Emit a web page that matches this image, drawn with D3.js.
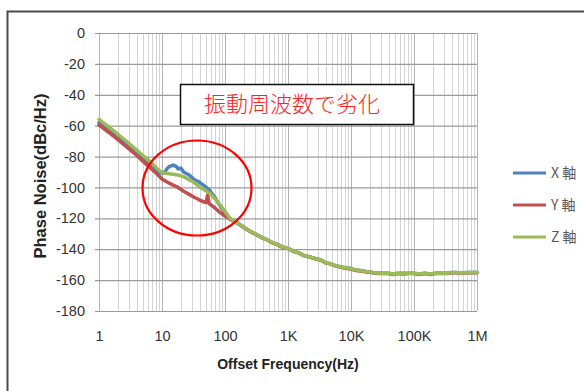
<!DOCTYPE html>
<html><head><meta charset="utf-8">
<script src="https://cdn.jsdelivr.net/npm/d3@7"></script>
<style>
html,body{margin:0;padding:0;background:#fff;}
svg{display:block;}
</style></head>
<body>
<svg id="chart" width="584" height="391"></svg>
<script>
// ---- data ----
const yTicks = [0,-20,-40,-60,-80,-100,-120,-140,-160,-180];
const xTickValues = [1,10,100,1000,10000,100000,1000000];
const xTickLabels = ["1","10","100","1K","10K","100K","1M"];
const seriesNames = ["X 軸","Y 軸","Z 軸"];
const annotationText = "振動周波数で劣化";

const freqX = [1,1.2,1.5,1.8,2.2,2.7,3.3,3.9,4.7,5.6,6.8,8.2,10,11,12,13,15,17,18,20,22,27,33,39,47,56,68,82,100,120,
  150,180,220,270,330,390,470,560,680,820,1000,1200,1500,1800,2200,2700,3300,3900,4700,5600,6800,8200,10000,12000,15000,18000,22000,27000,33000,39000,47000,56000,68000,82000,100000,120000,150000,180000,220000,270000,330000,390000,470000,560000,680000,820000,1000000];
const valX = [-58,-60.5,-63.5,-66,-69,-72,-75,-77.5,-80.5,-83,-86,-89,-91,-90,-88,-86.5,-85.5,-86.5,-88,-87.5,-90,-92,-95,-96.5,-99,-101.5,-106,-111.5,-116.5,-120.5,
  -122.5,-124.5,-127,-129,-131,-132.5,-134,-135.5,-137,-138.5,-139.5,-141,-142.5,-144,-145,-146,-147,-148.5,-149.5,-150.5,-151.5,-152,-152.5,-153.5,-154,-154.5,-155,-155.5,-155.5,-155.5,-156,-155.5,-155.5,-155.5,-155.5,-156,-155.5,-156,-155.5,-155.5,-155.5,-155,-155,-155.5,-155,-155,-155];

const freqY = [1,1.2,1.5,1.8,2.2,2.7,3.3,3.9,4.7,5.6,6.8,8.2,10,12,15,18,22,27,33,39,47,50,53,56,68,82,100,120,
  150,180,220,270,330,390,470,560,680,820,1000,1200,1500,1800,2200,2700,3300,3900,4700,5600,6800,8200,10000,12000,15000,18000,22000,27000,33000,39000,47000,56000,68000,82000,100000,120000,150000,180000,220000,270000,330000,390000,470000,560000,680000,820000,1000000];
const valY = [-59.5,-62,-65,-67.5,-70.5,-73.5,-76.5,-79,-82,-85,-88,-91,-94.5,-96.5,-98.5,-100,-102.5,-104.5,-106.5,-108,-109.5,-109.8,-105,-110.5,-113,-116,-118.5,-120.5,
  -122.5,-124.8,-127,-129.3,-131,-132.8,-134,-135.8,-137,-138.8,-139.5,-141.3,-142.5,-144.3,-145,-146.3,-147,-148.8,-149.5,-150.8,-151.5,-152.3,-152.8,-153.8,-154.3,-154.8,-155.3,-155.8,-155.8,-155.8,-156.3,-155.8,-156,-155.8,-155.8,-156.3,-155.8,-156.3,-155.8,-155.8,-155.8,-155.3,-155.3,-155.8,-155.3,-155.3,-155.3];

const freqZ = [1,1.2,1.5,1.8,2.2,2.7,3.3,3.9,4.7,5.6,6.8,8.2,10,12,15,18,22,27,33,39,47,56,68,82,100,120,
  150,180,220,270,330,390,470,560,680,820,1000,1200,1500,1800,2200,2700,3300,3900,4700,5600,6800,8200,10000,12000,15000,18000,22000,27000,33000,39000,47000,56000,68000,82000,100000,120000,150000,180000,220000,270000,330000,390000,470000,560000,680000,820000,1000000];
const valZ = [-56,-58.5,-61.5,-64,-67,-70,-73,-75.5,-78.5,-81,-84,-87.5,-90.5,-91,-91.5,-92,-93,-95,-97,-99.5,-101.5,-103.5,-107,-111,-115.5,-120,
  -122.5,-124.5,-127,-129,-131,-132.5,-134,-135.5,-137,-138.5,-139.5,-141,-142.5,-144,-145,-146,-147,-148.5,-149.5,-150.5,-151.5,-152,-152.5,-153.5,-154,-154.5,-155,-155.5,-155.5,-155.5,-156,-155.5,-155.5,-155.5,-155.5,-156,-155.5,-156,-155.5,-155.5,-155.5,-155,-155,-155.5,-155,-155,-155];

const colors = ["#4F81BD","#C0504D","#9BBB59"];

// ---- drawing ----
const svg = d3.select("#chart");
const plot = {left:99, right:477, top:33, bottom:311};

// outer frame
svg.append("rect").attr("x",7.5).attr("y",11.5).attr("width",620).attr("height",420)
  .attr("fill","#fff").attr("stroke","#4a4a4a").attr("stroke-width",2);

const x = d3.scaleLog().domain([1,1e6]).range([plot.left,plot.right]);
const y = d3.scaleLinear().domain([-180,0]).range([plot.bottom,plot.top]);

// vertical grid (minor + decade)
const minorVals = [];
for (let e=0;e<6;e++) for (let m=2;m<=9;m++) minorVals.push(m*Math.pow(10,e));
svg.append("g").selectAll("line").data(minorVals).join("line")
  .attr("x1",d=>Math.round(x(d))+0.5).attr("x2",d=>Math.round(x(d))+0.5)
  .attr("y1",plot.top).attr("y2",plot.bottom)
  .attr("stroke","#d4d4d4").attr("stroke-width",1);
svg.append("g").selectAll("line").data(xTickValues).join("line")
  .attr("x1",d=>Math.round(x(d))+0.5).attr("x2",d=>Math.round(x(d))+0.5)
  .attr("y1",plot.top).attr("y2",plot.bottom)
  .attr("stroke","#b3b3b3").attr("stroke-width",1);

// horizontal grid via axis
const yAxis = d3.axisLeft(y).tickValues(yTicks).tickFormat(d=>String(d))
  .tickSize(-(plot.right-plot.left)).tickSizeOuter(0).tickPadding(10);
const gy = svg.append("g").attr("transform",`translate(${plot.left},0)`).call(yAxis);
gy.select(".domain").remove();
gy.selectAll(".tick line").attr("stroke","#9a9a9a").attr("stroke-width",1.2).attr("x1",-4);
gy.selectAll(".tick text").attr("font-family","Liberation Sans, Arial, sans-serif")
  .attr("font-size",14.5).attr("fill","#333").attr("x",-14);

// x axis labels
const xAxis = d3.axisBottom(x).tickValues(xTickValues).tickFormat((d,i)=>xTickLabels[i]).tickSize(0).tickPadding(20);
const gx = svg.append("g").attr("transform",`translate(0,${plot.bottom})`).call(xAxis);
gx.select(".domain").remove();
gx.selectAll(".tick text").attr("font-family","Liberation Sans, Arial, sans-serif")
  .attr("font-size",14.5).attr("fill","#333");

// series
const line = d3.line().x(d=>x(d[0])).y(d=>y(d[1])).curve(d3.curveLinear);
const seriesData = [
  d3.zip(freqX,valX),
  d3.zip(freqY,valY),
  d3.zip(freqZ,valZ)
];
svg.append("g").selectAll("path").data(seriesData).join("path")
  .attr("d",line).attr("fill","none")
  .attr("stroke",(d,i)=>colors[i]).attr("stroke-width",3.5)
  .attr("stroke-linejoin","round").attr("stroke-linecap","round");

// axis titles
svg.append("text").attr("x",(plot.left+plot.right)/2).attr("y",369)
  .attr("text-anchor","middle").attr("font-family","Liberation Sans, Arial, sans-serif")
  .attr("font-weight","bold").attr("font-size",14).attr("fill","#222")
  .text("Offset Frequency(Hz)");
svg.append("text").attr("transform",`translate(46,${(plot.top+plot.bottom)/2+4}) rotate(-90)`)
  .attr("text-anchor","middle").attr("font-family","Liberation Sans, Arial, sans-serif")
  .attr("font-weight","bold").attr("font-size",16.5).attr("fill","#222")
  .text("Phase Noise(dBc/Hz)");

// legend
const legY = [173,205,237];
const leg = svg.append("g");
seriesNames.forEach((n,i)=>{
  leg.append("line").attr("x1",513).attr("x2",546).attr("y1",legY[i]).attr("y2",legY[i])
    .attr("stroke",colors[i]).attr("stroke-width",3);
  leg.append("text").attr("x",551).attr("y",legY[i]).attr("dy","0.36em")
    .attr("font-family","Noto Sans CJK JP, sans-serif").attr("font-size",14).attr("fill","#595959")
    .text(n);
});

// annotation box
svg.append("rect").attr("x",180.5).attr("y",84.5).attr("width",233).attr("height",40)
  .attr("fill","#fff").attr("stroke","#111").attr("stroke-width",1.5);
svg.append("text").attr("x",292).attr("y",104).attr("dy","0.36em").attr("text-anchor","middle")
  .attr("font-family","Noto Sans CJK JP, sans-serif").attr("font-weight",300).attr("font-size",22).attr("fill","#ff2020")
  .text(annotationText);

// ellipse
svg.append("ellipse").attr("cx",197).attr("cy",188).attr("rx",54.5).attr("ry",47.5)
  .attr("fill","none").attr("stroke","#ff0000").attr("stroke-width",2.2);
</script>
</body></html>
